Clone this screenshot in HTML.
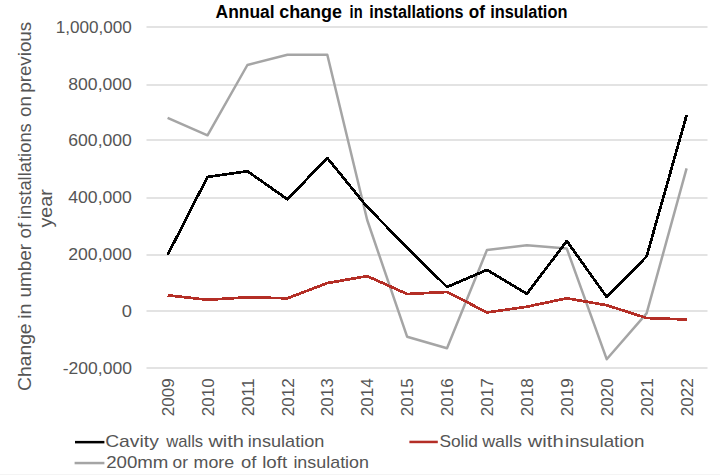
<!DOCTYPE html><html><head><meta charset="utf-8"><style>html,body{margin:0;padding:0;background:#fff;width:720px;height:475px;overflow:hidden}svg{display:block}text{font-family:"Liberation Sans", sans-serif}</style></head><body>
<svg width="720" height="475" viewBox="0 0 720 475">
<rect x="0" y="0" width="720" height="475" fill="#fff"/>
<rect x="0" y="474" width="720" height="1" fill="#f4f4f4"/>
<rect x="146.5" y="26" width="561" height="2" fill="#e3e3e3"/>
<rect x="146.5" y="84" width="561" height="2" fill="#e3e3e3"/>
<rect x="146.5" y="139" width="561" height="2" fill="#e3e3e3"/>
<rect x="146.5" y="197" width="561" height="2" fill="#e3e3e3"/>
<rect x="146.5" y="254" width="561" height="2" fill="#e3e3e3"/>
<rect x="146.5" y="310" width="561" height="2" fill="#e3e3e3"/>
<rect x="146.5" y="367" width="561" height="2" fill="#e3e3e3"/>
<text x="55.8" y="32.7" font-size="17" fill="#555555" textLength="76.1" lengthAdjust="spacingAndGlyphs">1,000,000</text>
<text x="68.3" y="89.5" font-size="17" fill="#555555" textLength="63.6" lengthAdjust="spacingAndGlyphs">800,000</text>
<text x="68.3" y="146.4" font-size="17" fill="#555555" textLength="63.6" lengthAdjust="spacingAndGlyphs">600,000</text>
<text x="68.3" y="203.2" font-size="17" fill="#555555" textLength="63.6" lengthAdjust="spacingAndGlyphs">400,000</text>
<text x="68.3" y="260.0" font-size="17" fill="#555555" textLength="63.6" lengthAdjust="spacingAndGlyphs">200,000</text>
<text x="121.7" y="316.8" font-size="17" fill="#555555" textLength="10.2" lengthAdjust="spacingAndGlyphs">0</text>
<text x="62.8" y="373.7" font-size="17" fill="#555555" textLength="69.1" lengthAdjust="spacingAndGlyphs">-200,000</text>
<text transform="translate(173.7,416.3) rotate(-90)" font-size="17" fill="#555555" textLength="38" lengthAdjust="spacingAndGlyphs">2009</text>
<text transform="translate(213.6,416.3) rotate(-90)" font-size="17" fill="#555555" textLength="38" lengthAdjust="spacingAndGlyphs">2010</text>
<text transform="translate(253.5,416.3) rotate(-90)" font-size="17" fill="#555555" textLength="38" lengthAdjust="spacingAndGlyphs">2011</text>
<text transform="translate(293.5,416.3) rotate(-90)" font-size="17" fill="#555555" textLength="38" lengthAdjust="spacingAndGlyphs">2012</text>
<text transform="translate(333.4,416.3) rotate(-90)" font-size="17" fill="#555555" textLength="38" lengthAdjust="spacingAndGlyphs">2013</text>
<text transform="translate(373.3,416.3) rotate(-90)" font-size="17" fill="#555555" textLength="38" lengthAdjust="spacingAndGlyphs">2014</text>
<text transform="translate(413.2,416.3) rotate(-90)" font-size="17" fill="#555555" textLength="38" lengthAdjust="spacingAndGlyphs">2015</text>
<text transform="translate(453.1,416.3) rotate(-90)" font-size="17" fill="#555555" textLength="38" lengthAdjust="spacingAndGlyphs">2016</text>
<text transform="translate(493.1,416.3) rotate(-90)" font-size="17" fill="#555555" textLength="38" lengthAdjust="spacingAndGlyphs">2017</text>
<text transform="translate(533.0,416.3) rotate(-90)" font-size="17" fill="#555555" textLength="38" lengthAdjust="spacingAndGlyphs">2018</text>
<text transform="translate(572.9,416.3) rotate(-90)" font-size="17" fill="#555555" textLength="38" lengthAdjust="spacingAndGlyphs">2019</text>
<text transform="translate(612.8,416.3) rotate(-90)" font-size="17" fill="#555555" textLength="38" lengthAdjust="spacingAndGlyphs">2020</text>
<text transform="translate(652.7,416.3) rotate(-90)" font-size="17" fill="#555555" textLength="38" lengthAdjust="spacingAndGlyphs">2021</text>
<text transform="translate(692.7,416.3) rotate(-90)" font-size="17" fill="#555555" textLength="38" lengthAdjust="spacingAndGlyphs">2022</text>
<text transform="translate(31.4,400) rotate(-90)" x="9.0" font-size="18" fill="#555555" textLength="67.6" lengthAdjust="spacingAndGlyphs">Change</text>
<text transform="translate(31.4,400) rotate(-90)" x="81.2" font-size="18" fill="#555555" textLength="15.4" lengthAdjust="spacingAndGlyphs">in</text>
<text transform="translate(31.4,400) rotate(-90)" x="102.4" font-size="18" fill="#555555" textLength="53.6" lengthAdjust="spacingAndGlyphs">umber</text>
<text transform="translate(31.4,400) rotate(-90)" x="161.6" font-size="18" fill="#555555" textLength="15.6" lengthAdjust="spacingAndGlyphs">of</text>
<text transform="translate(31.4,400) rotate(-90)" x="180.8" font-size="18" fill="#555555" textLength="96.0" lengthAdjust="spacingAndGlyphs">installations</text>
<text transform="translate(31.4,400) rotate(-90)" x="283.0" font-size="18" fill="#555555" textLength="20.8" lengthAdjust="spacingAndGlyphs">on</text>
<text transform="translate(31.4,400) rotate(-90)" x="307.2" font-size="18" fill="#555555" textLength="71.0" lengthAdjust="spacingAndGlyphs">previous</text>
<text transform="translate(51.8,227.6) rotate(-90)" font-size="18" fill="#555555" textLength="38.4" lengthAdjust="spacingAndGlyphs">year</text>
<text x="215.6" y="18.2" font-size="17.5" font-weight="bold" fill="#000" textLength="59.0" lengthAdjust="spacingAndGlyphs">Annual</text>
<text x="279.2" y="18.2" font-size="17.5" font-weight="bold" fill="#000" textLength="62.8" lengthAdjust="spacingAndGlyphs">change</text>
<text x="349.6" y="18.2" font-size="17.5" font-weight="bold" fill="#000" textLength="13.0" lengthAdjust="spacingAndGlyphs">in</text>
<text x="369.2" y="18.2" font-size="17.5" font-weight="bold" fill="#000" textLength="94.4" lengthAdjust="spacingAndGlyphs">installations</text>
<text x="468.8" y="18.2" font-size="17.5" font-weight="bold" fill="#000" textLength="16.2" lengthAdjust="spacingAndGlyphs">of</text>
<text x="490.2" y="18.2" font-size="17.5" font-weight="bold" fill="#000" textLength="77.2" lengthAdjust="spacingAndGlyphs">insulation</text>
<polyline points="167.6,117.8 207.5,135.3 247.4,65.0 287.4,54.7 327.3,54.7 367.2,220.0 407.1,336.7 447.0,348.3 487.0,249.9 526.9,245.2 566.8,248.6 606.7,359.2 646.6,313.4 686.6,168.4" fill="none" stroke="#a5a5a5" stroke-width="2.5" stroke-linejoin="round"/>
<polyline points="167.6,255.0 207.5,176.9 247.4,171.2 287.4,199.3 327.3,158.0 367.2,207.0 407.1,247.4 447.0,287.0 487.0,269.8 526.9,293.8 566.8,241.0 606.7,297.0 646.6,256.4 686.6,115.2" fill="none" stroke="#000" stroke-width="2.75" stroke-linejoin="round" shape-rendering="crispEdges"/>
<polyline points="167.6,295.3 207.5,299.8 247.4,297.3 287.4,298.3 327.3,283.1 367.2,276.1 407.1,294.0 447.0,292.0 487.0,312.4 526.9,306.7 566.8,298.3 606.7,305.2 646.6,318.0 686.6,319.5" fill="none" stroke="#b42e26" stroke-width="2.75" stroke-linejoin="round" shape-rendering="crispEdges"/>
<rect x="75" y="440.9" width="29.4" height="2.5" fill="#000"/>
<rect x="409.4" y="440.7" width="28.4" height="2.5" fill="#b42e26"/>
<rect x="74.6" y="461.8" width="29.8" height="2.5" fill="#a5a5a5"/>
<text x="105.2" y="447.1" font-size="17" fill="#555555" textLength="53.6" lengthAdjust="spacingAndGlyphs">Cavity</text>
<text x="166.2" y="447.1" font-size="17" fill="#555555" textLength="37.0" lengthAdjust="spacingAndGlyphs">walls</text>
<text x="208.4" y="447.1" font-size="17" fill="#555555" textLength="35.6" lengthAdjust="spacingAndGlyphs">with</text>
<text x="247.8" y="447.1" font-size="17" fill="#555555" textLength="76.6" lengthAdjust="spacingAndGlyphs">insulation</text>
<text x="439.4" y="447.1" font-size="17" fill="#555555" textLength="38.6" lengthAdjust="spacingAndGlyphs">Solid</text>
<text x="482.2" y="447.1" font-size="17" fill="#555555" textLength="39.8" lengthAdjust="spacingAndGlyphs">walls</text>
<text x="527.8" y="447.1" font-size="17" fill="#555555" textLength="35.8" lengthAdjust="spacingAndGlyphs">with</text>
<text x="565.0" y="447.1" font-size="17" fill="#555555" textLength="79.4" lengthAdjust="spacingAndGlyphs">insulation</text>
<text x="106.2" y="468.3" font-size="17" fill="#555555" textLength="62.2" lengthAdjust="spacingAndGlyphs">200mm</text>
<text x="172.6" y="468.3" font-size="17" fill="#555555" textLength="15.4" lengthAdjust="spacingAndGlyphs">or</text>
<text x="193.6" y="468.3" font-size="17" fill="#555555" textLength="40.6" lengthAdjust="spacingAndGlyphs">more</text>
<text x="241.0" y="468.3" font-size="17" fill="#555555" textLength="15.4" lengthAdjust="spacingAndGlyphs">of</text>
<text x="262.2" y="468.3" font-size="17" fill="#555555" textLength="25.0" lengthAdjust="spacingAndGlyphs">loft</text>
<text x="293.4" y="468.3" font-size="17" fill="#555555" textLength="75.6" lengthAdjust="spacingAndGlyphs">insulation</text>
</svg></body></html>
